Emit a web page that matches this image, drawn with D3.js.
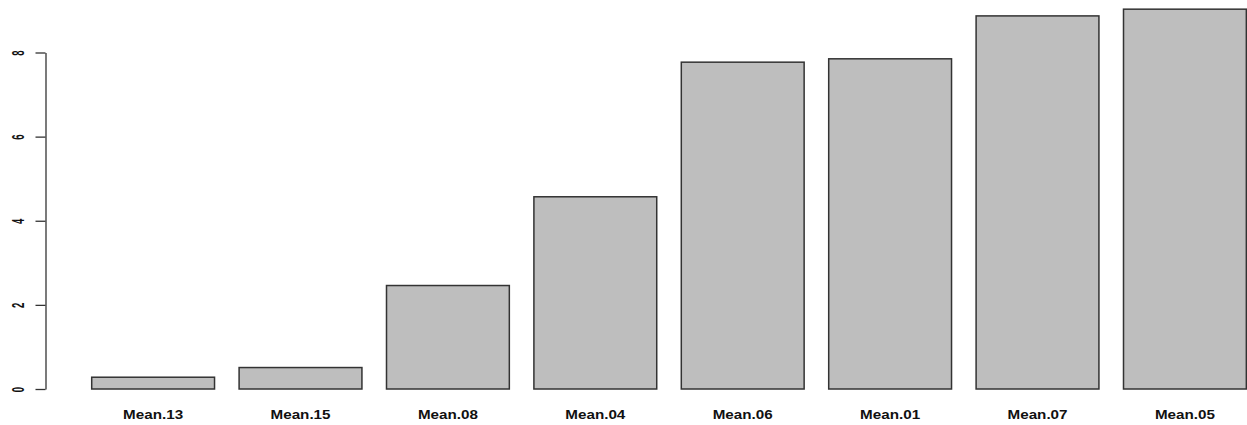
<!DOCTYPE html>
<html><head><meta charset="utf-8">
<script src="https://cdn.jsdelivr.net/npm/d3@7"></script>
<style>body{margin:0;background:#fff}svg{display:block}</style>
</head><body>
<script>
const categories = ["Mean.13","Mean.15","Mean.08","Mean.04","Mean.06","Mean.01","Mean.07","Mean.05"];
const values = [0.28, 0.51, 2.46, 4.57, 7.77, 7.85, 8.87, 9.03];
const yTicks = [0, 2, 4, 6, 8];

const W = 1247, H = 425;
const svg = d3.select("body").append("svg").attr("width", W).attr("height", H);

const step = 147.4, band = step / 1.2;
const x0 = 91.7 - (step - band) / 2;
const x = d3.scaleBand().domain(categories).range([x0, x0 + step * categories.length])
  .paddingInner(1 / 6).paddingOuter(1 / 12);
const y = d3.scaleLinear().domain([0, 8]).range([389, 52.5]);

svg.append("g").selectAll("rect").data(categories).join("rect")
  .attr("x", d => x(d)).attr("width", x.bandwidth())
  .attr("y", (d, i) => y(values[i])).attr("height", (d, i) => y(0) - y(values[i]))
  .attr("fill", "#bebebe").attr("stroke", "#333").attr("stroke-width", 1.5);

const ax = svg.append("g").attr("transform", "translate(45.5,0)")
  .call(d3.axisLeft(y).tickValues(yTicks).tickSize(10).tickSizeOuter(0).tickFormat(d3.format("d")));
ax.select(".domain").attr("stroke", "#333").attr("stroke-width", 1.3);
ax.selectAll(".tick line").attr("stroke", "#333").attr("stroke-width", 1.3);
ax.selectAll(".tick text")
  .attr("x", null).attr("dy", null)
  .attr("transform", "translate(-27.5,0) scale(1.8,1) rotate(-90)")
  .attr("text-anchor", "middle").attr("dominant-baseline", "central")
  .attr("font-family", "Liberation Sans, Arial, sans-serif").attr("font-size", 9.5)
  .attr("font-weight", "bold").attr("fill", "#111");

svg.append("g").selectAll("text").data(categories).join("text")
  .attr("x", d => x(d) + x.bandwidth() / 2).attr("y", 419)
  .attr("text-anchor", "middle")
  .attr("font-family", "Liberation Sans, Arial, sans-serif").attr("font-weight", "bold")
  .attr("font-size", 12).attr("fill", "#111")
  .attr("textLength", 60).attr("lengthAdjust", "spacingAndGlyphs")
  .text(d => d);
</script>
</body></html>
